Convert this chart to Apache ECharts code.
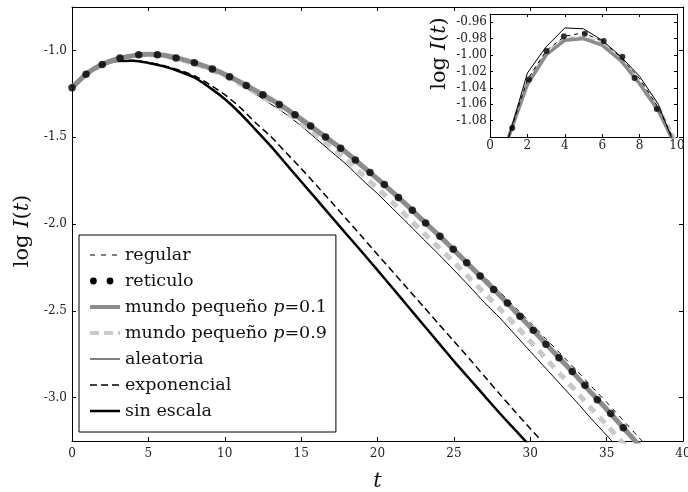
<!DOCTYPE html>
<html><head><meta charset="utf-8">
<script src="https://cdn.jsdelivr.net/npm/echarts@6/dist/echarts.min.js"></script>
<style>html,body{margin:0;padding:0;background:#fff}#c{width:688px;height:492px}</style>
</head><body><div id="c"></div>
<script>
// ---- main chart data (t = 0,1,2,...) ----
const tMain = [0,1,2,3,4,5,6,7,8,9,10,11,12,13,14,15,16,17,18,19,20,21,22,23,24,25,26,27,28,29,30,31,32,33,34,35,36,37,38];
const logRegular = [-1.215,-1.132,-1.080,-1.048,-1.030,-1.022,-1.028,-1.046,-1.071,-1.101,-1.138,-1.182,-1.230,-1.281,-1.335,-1.396,-1.460,-1.525,-1.591,-1.665,-1.738,-1.815,-1.894,-1.976,-2.056,-2.137,-2.223,-2.306,-2.390,-2.479,-2.568,-2.659,-2.749,-2.840,-2.935,-3.027,-3.123,-3.219,-3.315];
const logP01 = [-1.215,-1.132,-1.080,-1.048,-1.030,-1.022,-1.028,-1.046,-1.071,-1.101,-1.138,-1.182,-1.230,-1.281,-1.335,-1.396,-1.460,-1.525,-1.591,-1.666,-1.740,-1.818,-1.898,-1.982,-2.064,-2.149,-2.237,-2.323,-2.410,-2.502,-2.594,-2.688,-2.781,-2.875,-2.973,-3.067,-3.165,-3.262,-3.360];
const logP09 = [-1.215,-1.132,-1.080,-1.048,-1.031,-1.024,-1.031,-1.050,-1.077,-1.108,-1.147,-1.193,-1.243,-1.297,-1.355,-1.420,-1.488,-1.560,-1.632,-1.714,-1.795,-1.878,-1.963,-2.050,-2.134,-2.220,-2.310,-2.398,-2.488,-2.580,-2.676,-2.772,-2.868,-2.963,-3.063,-3.157,-3.255,-3.350];
const logAleatoria = [-1.215,-1.132,-1.080,-1.048,-1.030,-1.023,-1.030,-1.049,-1.075,-1.106,-1.146,-1.194,-1.250,-1.308,-1.367,-1.435,-1.510,-1.585,-1.660,-1.745,-1.825,-1.912,-1.998,-2.087,-2.174,-2.265,-2.357,-2.453,-2.540,-2.637,-2.734,-2.830,-2.926,-3.022,-3.122,-3.217,-3.315];
const logExponencial = [-1.215,-1.135,-1.085,-1.061,-1.058,-1.069,-1.087,-1.113,-1.146,-1.196,-1.255,-1.328,-1.415,-1.495,-1.588,-1.680,-1.777,-1.875,-1.975,-2.075,-2.176,-2.275,-2.375,-2.475,-2.575,-2.675,-2.775,-2.877,-2.980,-3.080,-3.178,-3.275];
const logSinEscala = [-1.215,-1.135,-1.085,-1.061,-1.060,-1.072,-1.092,-1.120,-1.156,-1.213,-1.280,-1.362,-1.455,-1.550,-1.653,-1.755,-1.857,-1.960,-2.062,-2.163,-2.266,-2.370,-2.475,-2.580,-2.685,-2.790,-2.890,-2.990,-3.090,-3.185,-3.280];
// reticulo markers (t, log I)
const reticuloT = [0,0.92,1.98,3.14,4.37,5.59,6.81,8.01,9.19,10.32,11.41,12.5,13.57,14.6,15.62,16.6,17.59,18.55,19.51,20.45,21.37,22.28,23.15,24.09,24.96,25.84,26.72,27.6,28.5,29.33,30.2,31.03,31.88,32.75,33.58,34.39,35.27,36.09];
const reticuloV = [-1.215,-1.138,-1.081,-1.044,-1.025,-1.025,-1.044,-1.071,-1.107,-1.152,-1.202,-1.255,-1.311,-1.371,-1.436,-1.499,-1.563,-1.632,-1.704,-1.773,-1.848,-1.921,-1.994,-2.071,-2.146,-2.223,-2.300,-2.378,-2.455,-2.532,-2.612,-2.693,-2.770,-2.849,-2.929,-3.012,-3.092,-3.173];
const xTicks = [0,5,10,15,20,25,30,35,40];
const yTicks = [-3.0,-2.5,-2.0,-1.5,-1.0];

// ---- inset data ----
const tInset = [1,2,3,4,5,6,7,8,9,10];
const insetThin = [-1.100,-1.022,-0.990,-0.967,-0.968,-0.982,-1.002,-1.026,-1.060,-1.118];
const insetRegular = [-1.100,-1.030,-0.995,-0.977,-0.973,-0.983,-1.003,-1.029,-1.064,-1.112];
const insetP01 = [-1.100,-1.036,-1.000,-0.982,-0.980,-0.988,-1.007,-1.035,-1.068,-1.114];
const insetP09 = [-1.100,-1.032,-0.998,-0.980,-0.978,-0.986,-1.004,-1.031,-1.063,-1.108];
const insetDotT = [1.19,2.08,3.02,3.95,5.07,6.08,7.08,7.73,8.92];
const insetDotV = [-1.089,-1.030,-0.995,-0.977,-0.974,-0.983,-1.002,-1.028,-1.066];
const insetXTicks = [0,2,4,6,8,10];
const insetYTicks = [-1.08,-1.06,-1.04,-1.02,-1.00,-0.98,-0.96];

const names = ['regular','reticulo','mundo pequeño p=0.1','mundo pequeño p=0.9','aleatoria','exponencial','sin escala'];

const pairs = (ts, vs) => vs.map((v, i) => [ts[i], v]);
const FONT = 'DejaVu Serif';
const nameRich = {
  n: {fontFamily: FONT, fontSize: 21, color: '#111'},
  i: {fontFamily: FONT, fontSize: 21, fontStyle: 'italic', color: '#111'}
};
const lbl = (show, fmt, extra) => Object.assign({show: show, fontFamily: FONT, fontSize: 12, color: '#222', formatter: fmt}, extra || {});
const tick = (len, vals) => { const o = {show: true, inside: true, length: len, lineStyle: {color: '#000', width: 1}}; if (vals) o.customValues = vals; return o; };
const line = {show: true, onZero: false, lineStyle: {color: '#000', width: 1}};
const SM = 0.25;

const option = {
  animation: false,
  backgroundColor: '#fff',
  grid: [
    {left: 72, top: 7, width: 611, height: 434, containLabel: false, outerBoundsMode: 'none'},
    {left: 490, top: 14, width: 187, height: 123, show: true, backgroundColor: '#fff', borderWidth: 0, outerBoundsMode: 'none'}
  ],
  xAxis: [
    {type: 'value', gridIndex: 0, min: 0, max: 40, interval: 5, position: 'bottom',
     axisLine: line, axisTick: tick(4), splitLine: {show: false},
     axisLabel: lbl(true, v => String(v), {margin: 7}),
     name: '{i|t}', nameLocation: 'middle', nameGap: 30, nameTextStyle: {rich: nameRich}},
    {type: 'value', gridIndex: 0, min: 0, max: 40, interval: 5, position: 'top',
     axisLine: line, axisTick: tick(4), splitLine: {show: false}, axisLabel: {show: false}},
    {type: 'value', gridIndex: 1, min: 0, max: 10, interval: 2, position: 'bottom',
     axisLine: line, axisTick: tick(3), splitLine: {show: false},
     axisLabel: lbl(true, v => String(v), {margin: 3})},
    {type: 'value', gridIndex: 1, min: 0, max: 10, interval: 2, position: 'top',
     axisLine: line, axisTick: tick(3), splitLine: {show: false}, axisLabel: {show: false}}
  ],
  yAxis: [
    {type: 'value', gridIndex: 0, min: -3.25, max: -0.75, position: 'left',
     axisLine: line, axisTick: tick(4, yTicks), splitLine: {show: false},
     axisLabel: lbl(true, v => v.toFixed(1), {margin: 5, customValues: yTicks}),
     name: '{n|log }{i|I}{n|(}{i|t}{n|)}', nameLocation: 'middle', nameRotate: 90, nameGap: 34,
     nameTextStyle: {rich: nameRich, padding: [0, 14, 0, 0]}},
    {type: 'value', gridIndex: 0, min: -3.25, max: -0.75, position: 'right',
     axisLine: line, axisTick: tick(4, yTicks), splitLine: {show: false}, axisLabel: {show: false}},
    {type: 'value', gridIndex: 1, min: -1.1, max: -0.95, position: 'left',
     axisLine: line, axisTick: tick(3, insetYTicks), splitLine: {show: false},
     axisLabel: lbl(true, v => v.toFixed(2), {margin: 3, customValues: insetYTicks}),
     name: '{n|log }{i|I}{n|(}{i|t}{n|)}', nameLocation: 'middle', nameRotate: 90, nameGap: 40,
     nameTextStyle: {rich: nameRich, padding: [0, 0, 0, 44]}},
    {type: 'value', gridIndex: 1, min: -1.1, max: -0.95, position: 'right',
     axisLine: line, axisTick: tick(3, insetYTicks), splitLine: {show: false}, axisLabel: {show: false}}
  ],
  legend: {
    orient: 'vertical', left: 79, top: 235,
    backgroundColor: '#fff', borderColor: '#000', borderWidth: 1, borderRadius: 0,
    padding: [11, 9, 12, 9],
    itemWidth: 30, itemHeight: 14, itemGap: 8,
    itemStyle: {opacity: 0},
    textStyle: {fontFamily: FONT, fontSize: 17.5, color: '#111',
      rich: {i: {fontFamily: FONT, fontSize: 17.5, fontStyle: 'italic', color: '#111'}}},
    formatter: n => n.replace('p=', '{i|p}='),
    data: [
      {name: names[0], lineStyle: {width: 1, type: [5, 6], color: '#000'}},
      {name: names[1], icon: 'path://M0 0M30 14M0 7a3.4 3.4 0 1 0 6.8 0a3.4 3.4 0 1 0 -6.8 0zM16.6 7a3.4 3.4 0 1 0 6.8 0a3.4 3.4 0 1 0 -6.8 0z', itemStyle: {opacity: 1, color: '#000'}},
      {name: names[2], lineStyle: {width: 4, type: 'solid', color: '#8c8c8c'}},
      {name: names[3], lineStyle: {width: 4, type: [9, 5], color: '#cacaca'}},
      {name: names[4], lineStyle: {width: 1, type: 'solid', color: '#000'}},
      {name: names[5], lineStyle: {width: 1.5, type: [7, 4], color: '#000'}},
      {name: names[6], lineStyle: {width: 2.5, type: 'solid', color: '#000'}}
    ]
  },
  series: [
    {name: names[6], type: 'line', xAxisIndex: 0, yAxisIndex: 0, data: pairs(tMain, logSinEscala), smooth: SM,
     showSymbol: false, symbol: 'none', lineStyle: {color: '#000', width: 2.5}, itemStyle: {color: '#000'}},
    {name: names[5], type: 'line', xAxisIndex: 0, yAxisIndex: 0, data: pairs(tMain, logExponencial), smooth: SM,
     showSymbol: false, symbol: 'none', lineStyle: {color: '#000', width: 1.5, type: [7, 4]}, itemStyle: {color: '#000'}},
    {name: names[4], type: 'line', xAxisIndex: 0, yAxisIndex: 0, data: pairs(tMain, logAleatoria), smooth: SM,
     showSymbol: false, symbol: 'none', lineStyle: {color: '#000', width: 1}, itemStyle: {color: '#000'}},
    {name: names[0], type: 'line', xAxisIndex: 0, yAxisIndex: 0, data: pairs(tMain, logRegular), smooth: SM,
     showSymbol: false, symbol: 'none', lineStyle: {color: '#000', width: 1, type: [5, 5]}, itemStyle: {color: '#000'}},
    {name: names[3], type: 'line', xAxisIndex: 0, yAxisIndex: 0, data: pairs(tMain, logP09), smooth: SM,
     showSymbol: false, symbol: 'none', lineStyle: {color: '#cacaca', width: 5, type: [8, 7]}, itemStyle: {color: '#cacaca'}},
    {name: names[2], type: 'line', xAxisIndex: 0, yAxisIndex: 0, data: pairs(tMain, logP01), smooth: SM,
     showSymbol: false, symbol: 'none', lineStyle: {color: '#8c8c8c', width: 5}, itemStyle: {color: '#8c8c8c'}},
    {name: names[1], type: 'scatter', xAxisIndex: 0, yAxisIndex: 0, data: pairs(reticuloT, reticuloV),
     symbol: 'circle', symbolSize: 7.5, clip: true, itemStyle: {color: '#000'}, z: 3},
    // inset
    {name: 'inset-p09', type: 'line', xAxisIndex: 2, yAxisIndex: 2, data: pairs(tInset, insetP09),
     showSymbol: false, symbol: 'none', lineStyle: {color: '#cacaca', width: 3.5, type: [6, 4]}},
    {name: 'inset-p01', type: 'line', xAxisIndex: 2, yAxisIndex: 2, data: pairs(tInset, insetP01),
     showSymbol: false, symbol: 'none', lineStyle: {color: '#8c8c8c', width: 3.5}},
    {name: 'inset-regular', type: 'line', xAxisIndex: 2, yAxisIndex: 2, data: pairs(tInset, insetRegular),
     showSymbol: false, symbol: 'none', lineStyle: {color: '#000', width: 1, type: [4, 4]}},
    {name: 'inset-thin', type: 'line', xAxisIndex: 2, yAxisIndex: 2, data: pairs(tInset, insetThin),
     showSymbol: false, symbol: 'none', lineStyle: {color: '#000', width: 1}},
    {name: 'inset-dots', type: 'scatter', xAxisIndex: 2, yAxisIndex: 2, data: pairs(insetDotT, insetDotV), z: 3,
     symbol: 'circle', symbolSize: 6, clip: true, itemStyle: {color: '#000'}}
  ]
};
const chart = echarts.init(document.getElementById('c'), null, {renderer: 'canvas'});
chart.setOption(option);
</script>
</body></html>
